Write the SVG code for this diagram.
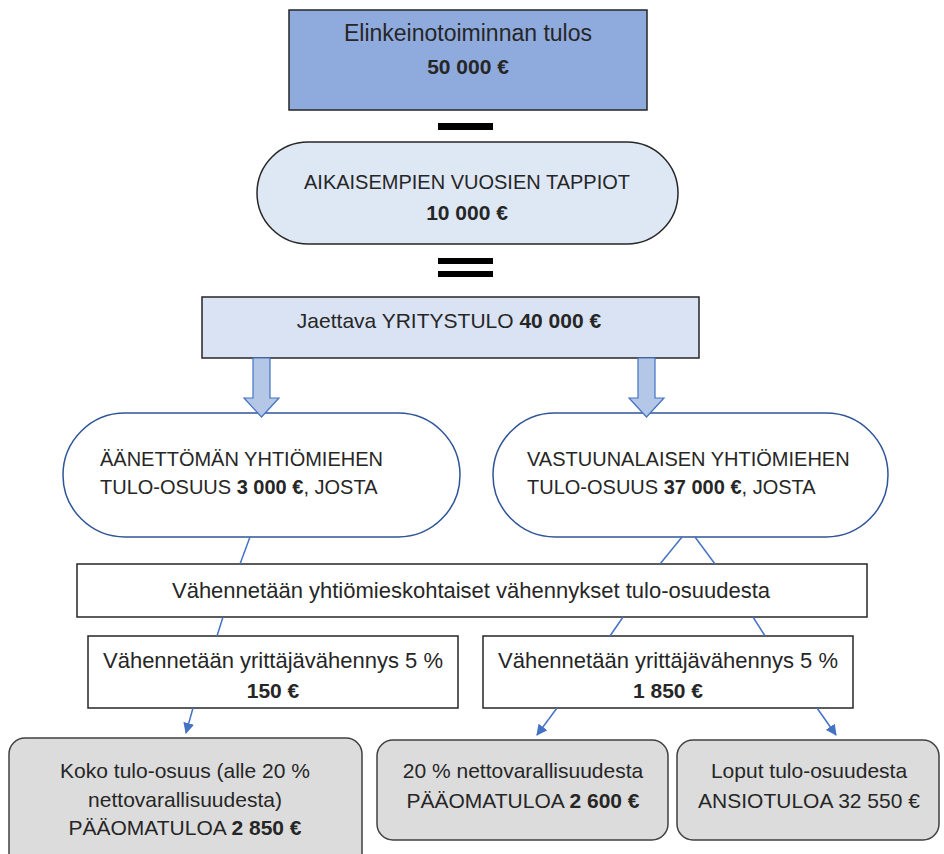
<svg xmlns="http://www.w3.org/2000/svg" width="944" height="854" viewBox="0 0 944 854">
<style>
text{font-family:"Liberation Sans",Arial,sans-serif;font-size:21px;fill:#262626}
.c{text-anchor:middle}
.b{font-weight:bold}
.l{font-size:22px}
.box{stroke:#262626;stroke-width:1.5}
.pill{fill:#ffffff;stroke:#2f5597;stroke-width:1.5}
.gray{fill:#dcdcdc;stroke:#404040;stroke-width:1.5}
.bar{fill:#000}
.conn{stroke:#4472c4;stroke-width:1.5;fill:none}
.block{fill:#b4c7e7;stroke:#4472c4;stroke-width:1.2}
</style>
<defs>
<marker id="ah" markerUnits="userSpaceOnUse" markerWidth="11" markerHeight="11" refX="10" refY="5.5" orient="auto">
<path d="M0,0 L11,5.5 L0,11 Z" fill="#4472c4"/>
</marker>
</defs>

<g id="n-tulos">
<rect class="box" x="289" y="10" width="358" height="100" fill="#8faadc"/>
<text class="c" x="468" y="41" style="font-size:23px">Elinkeinotoiminnan tulos</text>
<text class="c b" x="468" y="74">50 000 €</text>
</g>

<g id="n-minus">
<rect class="bar" x="438" y="123" width="55" height="7"/>
</g>

<g id="n-tappiot">
<rect class="box" x="257" y="142" width="421" height="102" rx="51" ry="51" fill="#dee7f4"/>
<text class="c" x="467" y="189" style="font-size:20px">AIKAISEMPIEN VUOSIEN TAPPIOT</text>
<text class="c b" x="467" y="220">10 000 €</text>
</g>

<g id="n-equals">
<rect class="bar" x="438" y="258" width="55" height="6"/>
<rect class="bar" x="438" y="271" width="55" height="6"/>
</g>

<g id="n-yritystulo">
<rect class="box" x="202" y="297" width="497" height="61" fill="#dae3f3"/>
<text class="c" x="449" y="328">Jaettava YRITYSTULO <tspan class="b">40 000 €</tspan></text>
</g>

<g id="n-aanetton">
<rect class="pill" x="63" y="413" width="397" height="124" rx="62" ry="62"/>
<text x="100" y="466" style="font-size:20px">ÄÄNETTÖMÄN YHTIÖMIEHEN</text>
<text x="100" y="494" style="font-size:20px">TULO-OSUUS <tspan class="b">3 000 €</tspan>, JOSTA</text>
</g>

<g id="n-vastuunalainen">
<rect class="pill" x="493" y="413" width="395" height="124" rx="62" ry="62"/>
<text x="527" y="466" style="font-size:20px">VASTUUNALAISEN YHTIÖMIEHEN</text>
<text x="527" y="494" style="font-size:20px">TULO-OSUUS <tspan class="b">37 000 €</tspan>, JOSTA</text>
</g>

<g id="n-vahennykset">
<rect class="box" x="77" y="564" width="790" height="53" fill="#ffffff"/>
<text class="c l" x="471" y="598">Vähennetään yhtiömieskohtaiset vähennykset tulo-osuudesta</text>
</g>

<g id="n-yrittaja-left">
<rect class="box" x="88" y="636" width="370" height="72" fill="#ffffff"/>
<text class="c l" x="273" y="668">Vähennetään yrittäjävähennys 5 %</text>
<text class="c b" x="273" y="698">150 €</text>
</g>

<g id="n-yrittaja-right">
<rect class="box" x="483" y="636" width="370" height="72" fill="#ffffff"/>
<text class="c l" x="668" y="668">Vähennetään yrittäjävähennys 5 %</text>
<text class="c b" x="668" y="698">1 850 €</text>
</g>

<g id="n-koko">
<rect class="gray" x="9" y="738" width="353" height="140" rx="16" ry="16"/>
<text class="c" x="185" y="778">Koko tulo-osuus (alle 20 %</text>
<text class="c" x="185" y="807">nettovarallisuudesta)</text>
<text class="c" x="185" y="835">PÄÄOMATULOA <tspan class="b">2 850 €</tspan></text>
</g>

<g id="n-paaoma">
<rect class="gray" x="377" y="740" width="291" height="100" rx="16" ry="16"/>
<text class="c" x="523" y="778">20 % nettovarallisuudesta</text>
<text class="c" x="523" y="808">PÄÄOMATULOA <tspan class="b">2 600 €</tspan></text>
</g>

<g id="n-ansio">
<rect class="gray" x="677" y="740" width="262" height="100" rx="16" ry="16"/>
<text class="c" x="809" y="778">Loput tulo-osuudesta</text>
<text class="c" x="809" y="808">ANSIOTULOA 32 550 €</text>
</g>

<g id="connectors">
<path class="block" d="M253,358 H270 V398 H279 L261.5,417 L244,398 H253 Z"/>
<path class="block" d="M638,358 H655 V398 H664 L646.5,417 L629,398 H638 Z"/>
<line class="conn" x1="250" y1="537" x2="240" y2="564"/>
<line class="conn" x1="223" y1="617" x2="217" y2="636"/>
<line class="conn" x1="682" y1="537" x2="660" y2="564"/>
<line class="conn" x1="695" y1="537" x2="715" y2="564"/>
<line class="conn" x1="623" y1="617" x2="610" y2="636"/>
<line class="conn" x1="753" y1="617" x2="765" y2="636"/>
<line class="conn" x1="193" y1="708" x2="186" y2="733" marker-end="url(#ah)"/>
<line class="conn" x1="557" y1="708" x2="537" y2="735" marker-end="url(#ah)"/>
<line class="conn" x1="817" y1="708" x2="836" y2="735" marker-end="url(#ah)"/>
</g>
</svg>
